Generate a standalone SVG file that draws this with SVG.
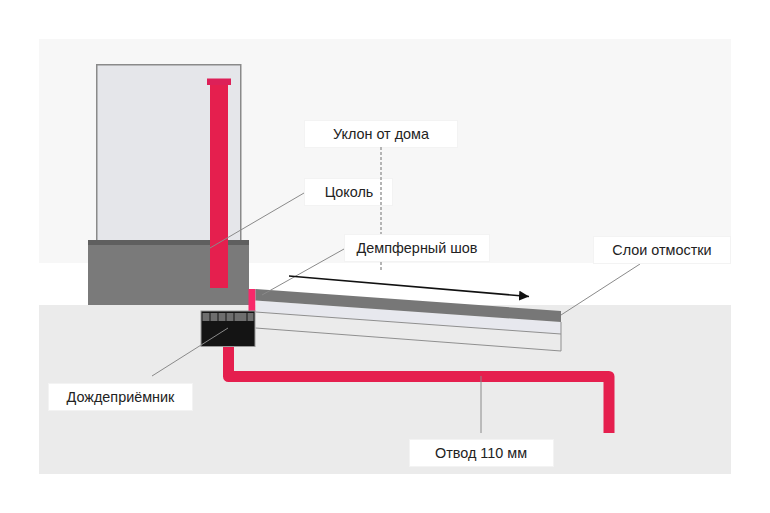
<svg xmlns="http://www.w3.org/2000/svg" width="770" height="513" viewBox="0 0 770 513">
<style>
text{font-family:"Liberation Sans",Arial,sans-serif;font-size:14.4px;fill:#222;text-anchor:middle}
.box{fill:#fff;stroke:#f3f3f3;stroke-width:1}
.lead{stroke:#8a8a8a;stroke-width:1;fill:none}
.pink{fill:#e51f4e}
.grate{fill:#6e6e6e}
</style>
<defs><marker id="arrow" markerUnits="userSpaceOnUse" markerWidth="11" markerHeight="11" refX="10" refY="5" orient="auto"><path d="M0 0L10 5L0 10Z" fill="#111"/></marker></defs>
<rect width="770" height="513" fill="#fff"/>
<rect x="39" y="39" width="692" height="224" fill="#f7f7f7"/>
<rect x="39" y="305" width="692" height="169" fill="#ebebeb"/>
<g id="wall"><rect x="96.750" y="64.750" width="144" height="180" fill="#e5e6ea" stroke="#8a8a8a" stroke-width="1.500"/></g>
<g id="plinth"><rect x="88" y="240" width="161" height="65" fill="#7a7a7a"/><rect x="88" y="240" width="161" height="5" fill="#5f5f5f"/></g>
<g id="riser"><rect class="pink" x="210" y="84" width="18" height="204"/><rect x="207" y="78.500" width="24" height="6.500" fill="#dd2058"/></g>
<g id="damper"><rect x="248.500" y="289" width="7" height="23" fill="#f8286a"/></g>
<g id="slab">
<path d="M255.500 300.500L561 322V334L255.500 312Z" fill="#e7e8ee"/>
<path d="M255.500 312L561 334V351L255.500 328Z" fill="#ebebeb"/>
<path d="M255.500 289L561 311V322L255.500 300.500Z" fill="#777"/>
<path d="M255.500 312L561 334M255.500 328L561 351V322" fill="none" stroke="#8f8f8f"/>
</g>
<g id="drain-pipe"><path d="M228.500 346V376.500H609V433" fill="none" stroke="#e51f4e" stroke-width="11" stroke-linejoin="round"/></g>
<g id="gully">
<rect x="201" y="311" width="54" height="35.500" fill="#141414" stroke="#999" stroke-width="1"/>
<rect class="grate" x="202.500" y="313" width="7" height="8"/><rect class="grate" x="210.500" y="313" width="7" height="8"/><rect class="grate" x="218.500" y="313" width="7" height="8"/><rect class="grate" x="226.500" y="313" width="7" height="8"/><rect class="grate" x="234.500" y="313" width="7" height="8"/><rect class="grate" x="240.500" y="313" width="6" height="8"/><rect class="grate" x="247.500" y="313" width="6" height="8"/>
</g>
<g id="connectors">
<path class="lead" d="M210 248L304 193"/>
<path class="lead" d="M262 295L344 249"/>
<path class="lead" d="M561 315L640 264"/>
<path class="lead" d="M228 328L152 376"/>
<path class="lead" d="M481 376V433"/>
<path d="M289 276L529 296.500" fill="none" stroke="#111" stroke-width="1.500" marker-end="url(#arrow)"/>
</g>
<g id="label-slope"><rect class="box" x="304.500" y="120.500" width="153" height="27"/><text x="381" y="139">Уклон от дома</text></g>
<g id="label-plinth"><rect class="box" x="304.500" y="178.500" width="88" height="27"/><text x="349" y="197">Цоколь</text></g>
<path d="M381 147V272" fill="none" stroke="#b4b4b4" stroke-width="2" stroke-dasharray="3 2"/>
<g id="label-damper"><rect class="box" x="344.500" y="234.500" width="145" height="27"/><text x="417" y="253">Демпферный шов</text></g>
<g id="label-layers"><rect class="box" x="593.500" y="236.500" width="137" height="27"/><text x="662" y="255">Слои отмостки</text></g>
<g id="label-gully"><rect class="box" x="48.500" y="383.500" width="144" height="27"/><text x="120.500" y="402">Дождеприёмник</text></g>
<g id="label-outlet"><rect class="box" x="409.500" y="439.500" width="144" height="27"/><text x="481" y="458">Отвод 110 мм</text></g>
</svg>
